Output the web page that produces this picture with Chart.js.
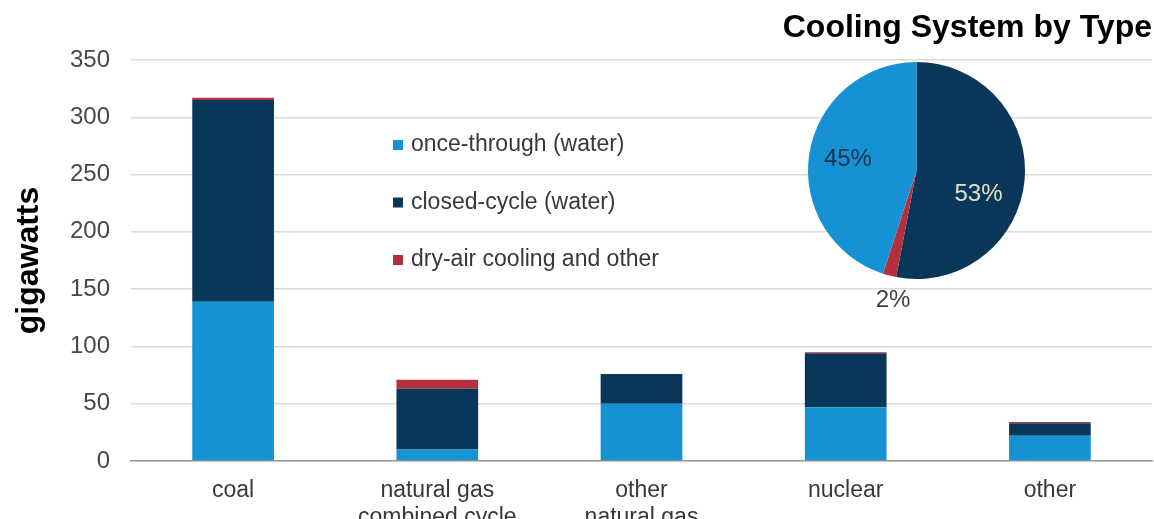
<!DOCTYPE html>
<html>
<head>
<meta charset="utf-8">
<script src="https://cdn.jsdelivr.net/npm/chart.js@4/dist/chart.umd.min.js"></script>
<style>
  html, body { margin: 0; padding: 0; background: #fff; }
  #wrap { position: relative; width: 1154px; height: 519px; overflow: hidden; }
  #barChart { position: absolute; left: 0; top: 0; }
  #pieChart { position: absolute; left: 780px; top: 50px; }
</style>
</head>
<body>
<div id="wrap">
  <canvas id="barChart" width="1154" height="519"></canvas>
  <canvas id="pieChart" width="272" height="270"></canvas>
</div>
<script>
// plant types (x axis)
let categories = ['coal', ['natural gas', 'combined cycle'], ['other', 'natural gas'], 'nuclear', 'other'];

// cooling capacity, gigawatts
let onceThrough = [139, 10, 50, 47, 22];
let closedCycle = [176, 53, 26, 47, 11];
let dryAir      = [2, 8, 0, 1, 1];

let seriesNames = ['once-through (water)', 'closed-cycle (water)', 'dry-air cooling and other'];

// share of all capacity, drawn clockwise from the top
let pieLabels = ['closed-cycle (water)', 'dry-air cooling and other', 'once-through (water)'];
let pieShares = [53, 2, 45];

const BLUE = '#1692d4';
const NAVY = '#09375a';
const RED = '#b5303e';
const FONT = "'Liberation Sans', Arial, sans-serif";

// legend drawn inside the plot, like the original
const innerLegend = {
  id: 'innerLegend',
  afterDatasetsDraw(chart) {
    const ctx = chart.ctx;
    ctx.save();
    ctx.font = '23px ' + FONT;
    ctx.textBaseline = 'middle';
    ctx.textAlign = 'left';
    chart.data.datasets.forEach((ds, i) => {
      const y = 145 + i * 57.5;
      ctx.fillStyle = ds.backgroundColor;
      ctx.fillRect(393, y - 5, 10, 10);
      ctx.fillStyle = '#383838';
      ctx.fillText(ds.label, 411, y);
    });
    ctx.restore();
  }
};

new Chart(document.getElementById('barChart'), {
  type: 'bar',
  data: {
    labels: categories,
    datasets: [
      { label: seriesNames[0], data: onceThrough, backgroundColor: BLUE },
      { label: seriesNames[1], data: closedCycle, backgroundColor: NAVY },
      { label: seriesNames[2], data: dryAir, backgroundColor: RED }
    ]
  },
  options: {
    responsive: false,
    animation: false,
    categoryPercentage: 1,
    barPercentage: 0.4,
    layout: { padding: { top: 0, right: 2, bottom: 0, left: 0 } },
    plugins: {
      legend: { display: false },
      tooltip: { enabled: false },
      title: {
        display: true,
        text: 'Cooling System by Type',
        align: 'end',
        color: '#000',
        font: { family: FONT, size: 32, weight: 'bold' },
        padding: { top: 9, bottom: 12.6 }
      }
    },
    scales: {
      x: {
        stacked: true,
        grid: { display: false },
        border: { display: true, color: '#9a9a9a', width: 1.5 },
        ticks: {
          color: '#383838',
          padding: 8,
          font: { family: FONT, size: 23, lineHeight: 1.17 }
        },
        afterFit(scale) { scale.height = 58; }
      },
      y: {
        stacked: true,
        min: 0,
        max: 350,
        ticks: {
          stepSize: 50,
          color: '#484848',
          padding: 21,
          font: { family: FONT, size: 24 }
        },
        grid: { color: '#dadada', lineWidth: 1.5, drawTicks: false },
        border: { display: false },
        title: {
          display: true,
          text: 'gigawatts',
          color: '#000',
          font: { family: FONT, size: 32, weight: 'bold' },
          padding: { top: 10, bottom: 0 }
        },
        afterFit(scale) { scale.width = 131; }
      }
    }
  },
  plugins: [innerLegend]
});

// percentage labels around the pie
const pieLabelRadius = [0.62, 1.24, 0.64];
const pieLabelNudge = [[-5, 18], [10, 0], [0, 0]];
const pieLabelColor = ['#e6dfc6', '#404040', '#13324f'];

const pieText = {
  id: 'pieText',
  afterDatasetsDraw(chart) {
    const ctx = chart.ctx;
    const meta = chart.getDatasetMeta(0);
    ctx.save();
    ctx.font = '24px ' + FONT;
    ctx.textAlign = 'center';
    ctx.textBaseline = 'middle';
    meta.data.forEach((arc, i) => {
      const mid = (arc.startAngle + arc.endAngle) / 2;
      const r = arc.outerRadius * pieLabelRadius[i];
      const x = arc.x + Math.cos(mid) * r + pieLabelNudge[i][0];
      const y = arc.y + Math.sin(mid) * r + pieLabelNudge[i][1];
      ctx.fillStyle = pieLabelColor[i];
      ctx.fillText(pieShares[i] + '%', x, y);
    });
    ctx.restore();
  }
};

new Chart(document.getElementById('pieChart'), {
  type: 'pie',
  data: {
    labels: pieLabels,
    datasets: [{
      data: pieShares,
      backgroundColor: [NAVY, RED, BLUE],
      borderWidth: 0
    }]
  },
  options: {
    responsive: false,
    animation: false,
    layout: { padding: { top: 12, right: 27, bottom: 41, left: 28 } },
    plugins: {
      legend: { display: false },
      tooltip: { enabled: false }
    }
  },
  plugins: [pieText]
});
</script>
</body>
</html>
